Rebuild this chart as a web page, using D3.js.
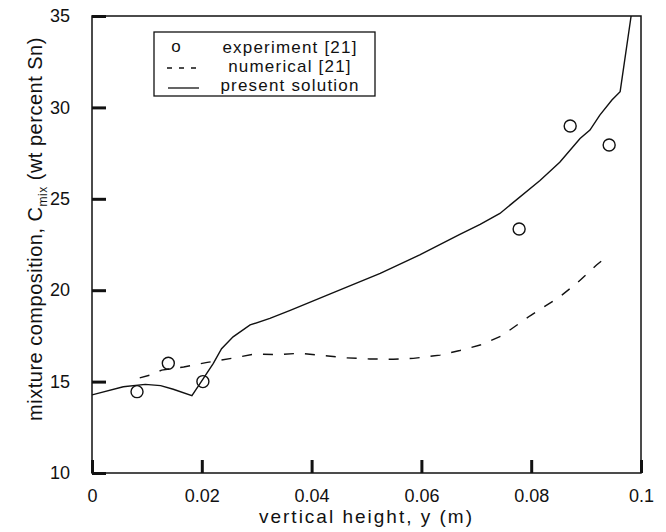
<!DOCTYPE html>
<html>
<head>
<meta charset="utf-8">
<script src="https://cdn.jsdelivr.net/npm/d3@7"></script>
<style>
  body { margin: 0; background: #fff; }
  text { font-family: "Liberation Sans", Arial, sans-serif; fill: #111; }
</style>
</head>
<body>
<script>
// experiment [21], circles
var expHeight = [0.0082, 0.0139, 0.0202, 0.0778, 0.0871, 0.0942];
var expComp   = [14.45, 16.0, 15.0, 23.35, 28.98, 27.94];

// numerical [21], dashed line
var numHeight = [0.0087, 0.0106, 0.0127, 0.0167, 0.021, 0.0254, 0.0295, 0.034, 0.038,
                 0.043, 0.0464, 0.0506, 0.0549, 0.0585, 0.062, 0.0634, 0.067, 0.0707,
                 0.0746, 0.0798, 0.0852, 0.0883, 0.0919, 0.0928];
var numComp   = [15.2, 15.36, 15.63, 15.8, 16.05, 16.27, 16.5, 16.48, 16.55,
                 16.4, 16.3, 16.24, 16.22, 16.27, 16.4, 16.45, 16.7, 17.0,
                 17.5, 18.6, 19.64, 20.38, 21.38, 21.6];

// present solution, solid line
var solHeight = [0, 0.0057, 0.0097, 0.0125, 0.0148, 0.0182, 0.0203, 0.0221, 0.0236,
                 0.0257, 0.0288, 0.0324, 0.0361, 0.0434, 0.0525, 0.0597, 0.067, 0.0707,
                 0.0743, 0.0816, 0.0852, 0.0889, 0.0907, 0.0925, 0.0947, 0.0962, 0.0982];
var solComp   = [14.27, 14.72, 14.85, 14.78, 14.58, 14.23, 15.18, 16.0, 16.8,
                 17.45, 18.1, 18.46, 18.9, 19.8, 20.92, 21.93, 23.05, 23.6,
                 24.2, 26.0, 27.0, 28.3, 28.76, 29.58, 30.4, 30.86, 35];

// tick values
var xTicks = [0, 0.02, 0.04, 0.06, 0.08, 0.1];
var yTicks = [10, 15, 20, 25, 30, 35];

// legend entries
var legendLabels = ["experiment [21]", "numerical [21]", "present solution"];

/*
* Draws the chart.
*/
function makePlot() {

  var width = 666;
  var height = 532;
  var plot = {left: 92, right: 641, top: 16, bottom: 473};

  var svg = d3.select("body")
    .append("svg")
    .attr("width", width)
    .attr("height", height);

  var xScale = d3.scaleLinear()
    .domain([0, 0.1])
    .range([plot.left, plot.right]);

  var yScale = d3.scaleLinear()
    .domain([10, 35])
    .range([plot.bottom, plot.top]);

  // clip to the axes box
  svg.append("clipPath")
    .attr("id", "clip")
    .append("rect")
    .attr("x", plot.left)
    .attr("y", plot.top)
    .attr("width", plot.right - plot.left)
    .attr("height", plot.bottom - plot.top);

  var line = d3.line()
    .x(function(d) { return xScale(d[0]); })
    .y(function(d) { return yScale(d[1]); });

  var numData = numHeight.map(function(h, i) { return [h, numComp[i]]; });
  var solData = solHeight.map(function(h, i) { return [h, solComp[i]]; });
  var expData = expHeight.map(function(h, i) { return [h, expComp[i]]; });

  var g = svg.append("g").attr("clip-path", "url(#clip)");

  // dashed numerical line
  g.append("path")
    .datum(numData)
    .attr("d", line)
    .attr("fill", "none")
    .attr("stroke", "#111")
    .attr("stroke-width", 1.4)
    .attr("stroke-dasharray", "10,11");

  // solid present solution
  g.append("path")
    .datum(solData)
    .attr("d", line)
    .attr("fill", "none")
    .attr("stroke", "#111")
    .attr("stroke-width", 1.4);

  // experiment circles
  g.selectAll("circle")
    .data(expData)
    .enter()
    .append("circle")
    .attr("cx", function(d) { return xScale(d[0]); })
    .attr("cy", function(d) { return yScale(d[1]); })
    .attr("r", 6)
    .attr("fill", "none")
    .attr("stroke", "#111")
    .attr("stroke-width", 1.4);

  // box
  svg.append("rect")
    .attr("x", plot.left)
    .attr("y", plot.top)
    .attr("width", plot.right - plot.left)
    .attr("height", plot.bottom - plot.top)
    .attr("fill", "none")
    .attr("stroke", "#111")
    .attr("stroke-width", 1.5);

  // axes with inward ticks
  var xAxis = d3.axisBottom(xScale)
    .tickValues(xTicks)
    .tickFormat(function(d) { return d; })
    .tickSizeInner(-13)
    .tickSizeOuter(0)
    .tickPadding(18);

  var yAxis = d3.axisLeft(yScale)
    .tickValues(yTicks)
    .tickSizeInner(-14)
    .tickSizeOuter(0)
    .tickPadding(22);

  var gx = svg.append("g")
    .attr("transform", "translate(0," + plot.bottom + ")")
    .call(xAxis);

  var gy = svg.append("g")
    .attr("transform", "translate(" + plot.left + ",0)")
    .call(yAxis);

  [gx, gy].forEach(function(ax) {
    ax.select(".domain").remove();
    ax.selectAll(".tick line")
      .attr("stroke", "#111")
      .attr("stroke-width", 3);
    ax.selectAll(".tick text")
      .attr("fill", "#111")
      .style("font-size", "18px")
      .style("font-family", "'Liberation Sans', Arial, sans-serif");
  });
  gx.selectAll(".tick text").attr("dy", "0.6em");

  // x label
  svg.append("text")
    .attr("x", (plot.left + plot.right) / 2)
    .attr("y", 523)
    .style("text-anchor", "middle")
    .style("font-size", "19px")
    .style("letter-spacing", "2px")
    .text("vertical height, y (m)");

  // y label with subscript
  var yLabel = svg.append("text")
    .attr("transform", "translate(42,229) rotate(-90)")
    .style("text-anchor", "middle")
    .style("font-size", "20px")
    .style("letter-spacing", "0.5px");
  yLabel.append("tspan").text("mixture composition, C");
  yLabel.append("tspan")
    .attr("dy", 5)
    .style("font-size", "12px")
    .text("mix");
  yLabel.append("tspan")
    .attr("dy", -5)
    .text(" (wt percent Sn)");

  // legend
  var legend = svg.append("g");
  legend.append("rect")
    .attr("x", 154)
    .attr("y", 32)
    .attr("width", 221)
    .attr("height", 64)
    .attr("fill", "#fff")
    .attr("stroke", "#111")
    .attr("stroke-width", 1.3);

  legend.selectAll(".label")
    .data(legendLabels)
    .enter()
    .append("text")
    .attr("class", "label")
    .attr("x", 290)
    .attr("y", function(d, i) { return 53 + i * 19; })
    .style("text-anchor", "middle")
    .style("font-size", "17px")
    .style("letter-spacing", "1.2px")
    .text(function(d) { return d; });

  legend.append("text")
    .attr("x", 176)
    .attr("y", 52)
    .style("text-anchor", "middle")
    .style("font-size", "17px")
    .text("o");

  legend.append("line")
    .attr("x1", 167).attr("x2", 199)
    .attr("y1", 68).attr("y2", 68)
    .attr("stroke", "#111")
    .attr("stroke-width", 1.3)
    .attr("stroke-dasharray", "5,7");

  legend.append("line")
    .attr("x1", 168).attr("x2", 199)
    .attr("y1", 88).attr("y2", 88)
    .attr("stroke", "#111")
    .attr("stroke-width", 1.3);
}

window.onload = function() {
  makePlot();
};
</script>
</body>
</html>
